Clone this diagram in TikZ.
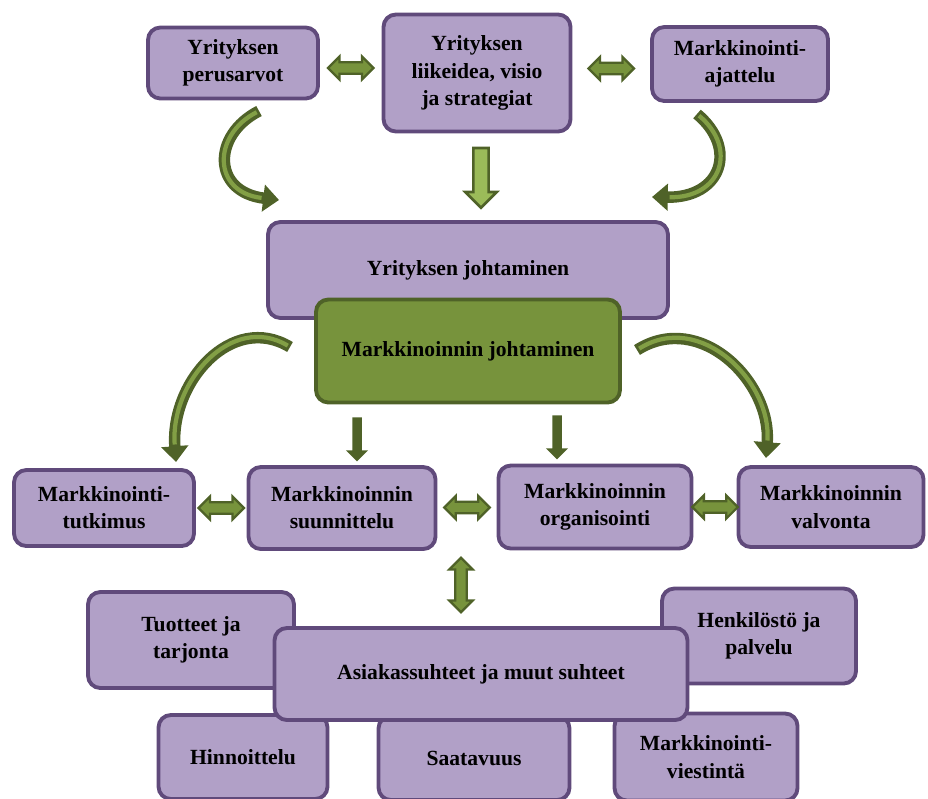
\documentclass[tikz,border=0pt]{standalone}
\usepackage{fontspec}
\setmainfont{Liberation Serif}
\usetikzlibrary{shapes.arrows,arrows.meta,calc}

\definecolor{lila}{HTML}{B1A0C7}
\definecolor{lilareuna}{HTML}{604A7B}
\definecolor{vihrea}{HTML}{77933C}
\definecolor{vihreareuna}{HTML}{4F6228}
\definecolor{vaalea}{HTML}{9BBB59}

\tikzset{
  laatikko/.style={draw=lilareuna, fill=lila, line width=2.2pt, rounded corners=7pt,
    align=center, inner sep=2pt, font=\bfseries\fontsize{12.3}{15.5}\selectfont},
  vihreälaatikko/.style={laatikko, draw=vihreareuna, fill=vihrea},
  kaksi/.style={double arrow, draw=vihreareuna, fill=vihrea, line width=1.3pt,
    inner sep=2.6pt, double arrow head extend=3.4pt, minimum height=26pt},
  alas/.style={single arrow, shape border rotate=270, fill=vihreareuna, inner sep=2.5pt,
    single arrow head extend=3.6pt, minimum height=25pt},
  kaari/.style={line width=6.5pt, draw=vihreareuna, -{Triangle[length=9pt,width=15pt]}},
  kaarisisa/.style={line width=2.4pt, draw=vihrea!70!vaalea, shorten >=10pt, shorten <=1.5pt}
}

\begin{document}
\begin{tikzpicture}[x=0.02cm, y=-0.02cm]
  \clip (0,0) rectangle (928,798);

  % ylärivi
  \node[laatikko, minimum width=3.40cm, minimum height=1.42cm] (perus) at (233,63) {Yrityksen\\perusarvot};
  \node[laatikko, minimum width=3.74cm, minimum height=2.34cm] (liike) at (477,73) {Yrityksen\\liikeidea, visio\\ja strategiat};
  \node[laatikko, minimum width=3.52cm, minimum height=1.48cm] (ajattelu) at (740,64) {Markkinointi-\\ajattelu};

  \node[kaksi] (n1) at ($(perus.east)!0.5!(liike.west)$) {};
  \node[kaksi] (n2) at ($(liike.east)!0.5!(ajattelu.west)$) {};
  \node[single arrow, shape border rotate=270, draw=vihreareuna, fill=vaalea, line width=1.5pt,
    inner sep=3.6pt, single arrow head extend=4.6pt, minimum height=34pt] (n3) at (481,174) {};

  % johtaminen
  \node[laatikko, minimum width=8.00cm, minimum height=1.92cm] (yjoht) at (468,270) {Yrityksen johtaminen};
  \node[vihreälaatikko, minimum width=6.08cm, minimum height=2.06cm] (mjoht) at (468,351) {Markkinoinnin johtaminen};

  % toimintorivi
  \node[laatikko, minimum width=3.60cm, minimum height=1.52cm] (tutk) at (104,508) {Markkinointi-\\tutkimus};
  \node[laatikko, minimum width=3.74cm, minimum height=1.64cm] (suunn) at (342,508) {Markkinoinnin\\suunnittelu};
  \node[laatikko, minimum width=3.86cm, minimum height=1.66cm] (organ) at (595,507) {Markkinoinnin\\organisointi};
  \node[laatikko, minimum width=3.70cm, minimum height=1.60cm] (valv) at (831,507) {Markkinoinnin\\valvonta};

  \node[kaksi] (n4) at ($(tutk.east)!0.5!(suunn.west)$) {};
  \node[kaksi] (n5) at ($(suunn.east)!0.5!(organ.west)$) {};
  \node[kaksi] (n6) at ($(organ.east)!0.5!(valv.west)$) {};
  \node[kaksi, shape border rotate=90, minimum height=31pt] (n7) at (461,585) {};
  \node[alas] (n8) at (357,437) {};
  \node[alas] (n9) at (557,435) {};

  % kaarinuolet
  \draw[kaari] (259,111) .. controls (212,135) and (212,192) .. (279,200);
  \draw[kaarisisa] (259,111) .. controls (212,135) and (212,192) .. (279,200);
  \draw[kaari] (697,114) .. controls (738,148) and (722,198) .. (652,197);
  \draw[kaarisisa] (697,114) .. controls (738,148) and (722,198) .. (652,197);
  \draw[kaari] (290,347) .. controls (232,312) and (170,382) .. (176,462);
  \draw[kaarisisa] (290,347) .. controls (232,312) and (170,382) .. (176,462);
  \draw[kaari] (637,350) .. controls (700,310) and (772,382) .. (766,458);
  \draw[kaarisisa] (637,350) .. controls (700,310) and (772,382) .. (766,458);

  % kilpailukeinot
  \node[laatikko, minimum width=4.12cm, minimum height=1.92cm] (tuote) at (191,640) {Tuotteet ja\\tarjonta};
  \node[laatikko, minimum width=3.88cm, minimum height=1.90cm] (henk) at (759,636) {Henkilöstö ja\\palvelu};
  \node[laatikko, minimum width=3.38cm, minimum height=1.68cm] (hinta) at (243,757) {Hinnoittelu};
  \node[laatikko, minimum width=3.82cm, minimum height=1.68cm] (saat) at (474,758) {Saatavuus};
  \node[laatikko, minimum width=3.66cm, minimum height=1.74cm] (viest) at (706,757) {Markkinointi-\\viestintä};
  \node[laatikko, minimum width=8.26cm, minimum height=1.84cm] (asiakas) at (481,674) {Asiakassuhteet ja muut suhteet};
\end{tikzpicture}
\end{document}
